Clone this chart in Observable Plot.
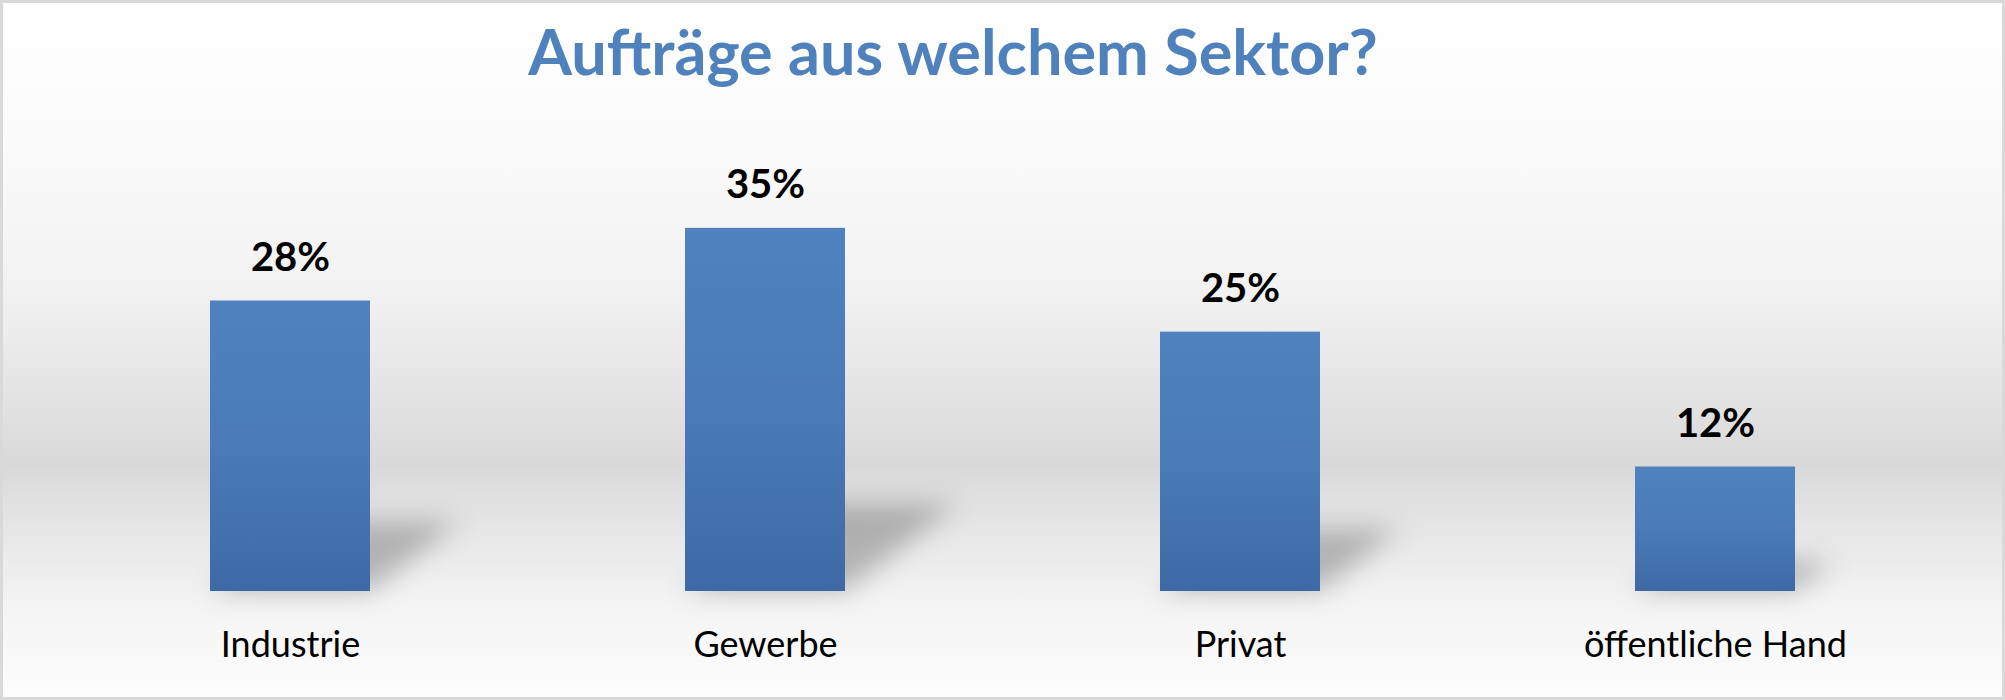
<!DOCTYPE html>
<html>
<head>
<meta charset="utf-8">
<script src="https://cdn.jsdelivr.net/npm/d3@7"></script>
<script src="https://cdn.jsdelivr.net/npm/@observablehq/plot@0.6"></script>
<style>
  html, body { margin: 0; padding: 0; background: #ffffff; }
  #frame {
    box-sizing: border-box;
    width: 2005px; height: 700px;
    border: 3px solid #d9d9d9;
    background: linear-gradient(to bottom, #ffffff 0%, #fafafa 22%, #f1f1f1 42%, #e4e4e4 56%, #d9d9d9 66.5%, #e6e6e6 76%, #f4f4f4 87%, #fdfdfd 100%);
    font-family: Lato, "Open Sans", sans-serif;
  }
  #title {
    box-sizing: border-box;
    height: 100px;
    padding-top: 10px;
    padding-right: 99px;
    text-align: center;
    font-family: Lato, sans-serif;
    font-weight: bold;
    font-size: 63px;
    line-height: normal;
    color: #4f81bd;
    white-space: nowrap;
  }
</style>
</head>
<body>
<div id="frame">
  <div id="title">Aufträge aus welchem Sektor?</div>
  <div id="chart"></div>
</div>
<script>
const categories = ["Industrie", "Gewerbe", "Privat", "öffentliche Hand"];
const shares = [28, 35, 25, 12];
const shareLabels = ["28%", "35%", "25%", "12%"];

const data = categories.map((c, i) => ({category: c, share: shares[i], label: shareLabels[i]}));

const chart = Plot.plot({
  width: 1999,
  height: 594,
  marginLeft: 48,
  marginRight: 49,
  marginTop: 73,
  marginBottom: 106,
  style: {background: "transparent", fontFamily: "Lato, sans-serif", color: "black", overflow: "visible"},
  x: {domain: categories, paddingInner: 0.6635, paddingOuter: 0.33175, axis: null, label: null},
  y: {domain: [0, 40], axis: null},
  marks: [
    Plot.barY(data, {x: "category", y: "share", fill: "#000000", fillOpacity: 0.24}),
    Plot.barY(data, {x: "category", y: "share", fill: "url(#barGrad)"}),
    Plot.text(data, {x: "category", y: "share", text: "label", lineAnchor: "bottom", dy: -30,
      fontSize: 40, fontWeight: "bold", fill: "black"}),
    Plot.axisX({tickSize: 0, tickPadding: 40, fontSize: 36, fill: "black", fontWeight: "normal", label: null})
  ]
});

const ns = "http://www.w3.org/2000/svg";
const defs = document.createElementNS(ns, "defs");
defs.innerHTML = `
  <linearGradient id="barGrad" x1="0" y1="0" x2="0" y2="1">
    <stop offset="0" stop-color="#4f82be"/>
    <stop offset="0.5" stop-color="#4a7bb7"/>
    <stop offset="1" stop-color="#3d6aa4"/>
  </linearGradient>
  <filter id="shadowBlur" x="-50%" y="-50%" width="200%" height="200%">
    <feGaussianBlur stdDeviation="13"/>
  </filter>`;
chart.insertBefore(defs, chart.firstChild);

// soft perspective shadow behind each bar, derived from the y scale's baseline
const y0 = chart.scale("y").apply(0);
const shadowGroup = chart.querySelectorAll('g[aria-label="bar"]')[0];
const outer = document.createElementNS(ns, "g");
outer.setAttribute("filter", "url(#shadowBlur)");
const skew = document.createElementNS(ns, "g");
skew.setAttribute("transform", `translate(0,${y0}) skewX(-52) scale(1,0.24) translate(0,${-y0})`);
shadowGroup.parentNode.insertBefore(outer, shadowGroup);
outer.appendChild(skew);
skew.appendChild(shadowGroup);

document.getElementById("chart").appendChild(chart);
</script>
</body>
</html>
